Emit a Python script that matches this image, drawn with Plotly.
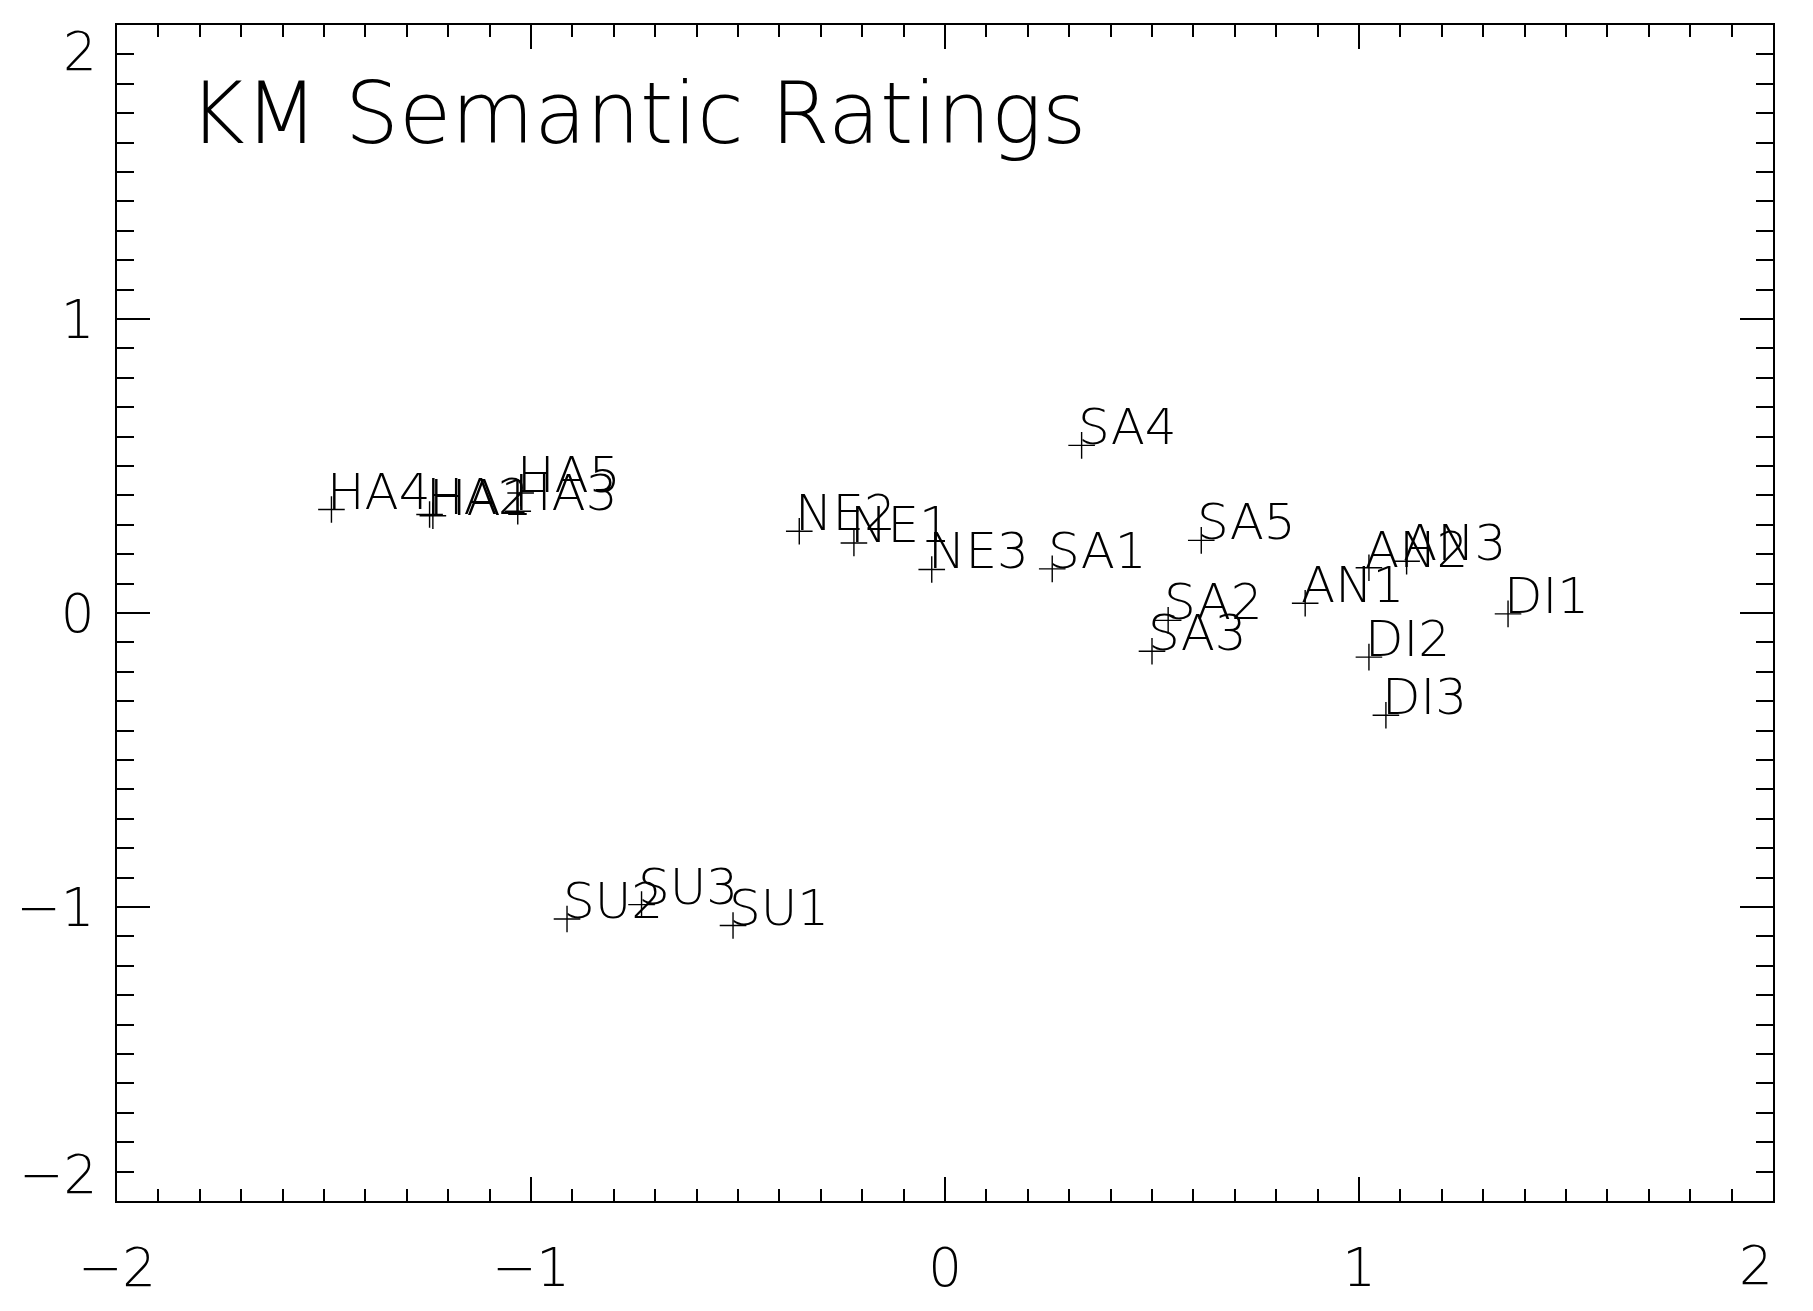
import plotly.graph_objects as go

# point labels and their coordinates
names = ["HA1", "HA2", "HA3", "HA4", "HA5",
         "NE1", "NE2", "NE3",
         "SA1", "SA2", "SA3", "SA4", "SA5",
         "AN1", "AN2", "AN3",
         "DI1", "DI2", "DI3",
         "SU1", "SU2", "SU3"]
x_vals = [-1.237, -1.245, -1.032, -1.482, -1.025,
          -0.220, -0.352, -0.032,
          0.259, 0.539, 0.500, 0.330, 0.619,
          0.870, 1.024, 1.115,
          1.360, 1.024, 1.065,
          -0.512, -0.913, -0.733]
y_vals = [0.331, 0.335, 0.346, 0.352, 0.408,
          0.238, 0.278, 0.148,
          0.150, -0.025, -0.130, 0.570, 0.247,
          0.033, 0.154, 0.176,
          -0.003, -0.150, -0.348,
          -1.063, -1.041, -0.992]

title_text = "KM Semantic Ratings"
axis_range = [-2, 2]
tick_vals = [-2, -1, 0, 1, 2]
y_tick_text = ["", "−1", "0", "1", ""]
x_tick_text = ["−2", "−1", "0", "1", ""]

FONT = "DejaVu Sans"
tick_font = dict(family=FONT, size=53, color="black", weight=200)

fig = go.Figure()
fig.add_trace(go.Scatter(
    x=x_vals, y=y_vals, mode="markers",
    marker=dict(symbol="cross-thin", size=19, line=dict(width=1.4, color="black")),
    hoverinfo="text", text=names, showlegend=False,
))

# labels start at the cross, baseline on the point
for n, xv, yv in zip(names, x_vals, y_vals):
    fig.add_annotation(x=xv, y=yv, text=n, showarrow=False,
                       xanchor="left", yanchor="bottom", xshift=-6, yshift=-13,
                       font=dict(family=FONT, size=50, color="black", weight=200))

fig.add_annotation(x=-1.83, y=1.59, text=title_text, showarrow=False,
                   xanchor="left", yanchor="bottom", yshift=-19,
                   font=dict(family=FONT, size=85, color="black", weight=200))

# end labels pulled inside the axis span, the way IDL draws them
fig.add_annotation(x=-2, y=2, text="2", showarrow=False,
                   xanchor="right", yanchor="top", xshift=-18, yshift=6, font=tick_font)
fig.add_annotation(x=-2, y=-2, text="−2", showarrow=False,
                   xanchor="right", yanchor="bottom", xshift=-18, yshift=-6, font=tick_font)
fig.add_annotation(x=2, y=-2, text="2", showarrow=False,
                   xanchor="right", yanchor="top", xshift=2, yshift=-32, font=tick_font)

axis_common = dict(range=axis_range, tickmode="array", tickvals=tick_vals,
                   showgrid=False, zeroline=False,
                   showline=True, linecolor="black", linewidth=2, mirror="ticks",
                   ticks="inside", tickcolor="black", tickwidth=1.5,
                   tickfont=tick_font)

fig.update_xaxes(**axis_common, ticktext=x_tick_text, ticklen=24, ticklabelstandoff=19,
                 minor=dict(ticks="inside", dtick=0.1, tick0=0, ticklen=12,
                            tickcolor="black", tickwidth=1.5))
fig.update_yaxes(**axis_common, ticktext=y_tick_text, ticklen=33, ticklabelstandoff=10,
                 minor=dict(ticks="inside", dtick=0.1, tick0=0, ticklen=17,
                            tickcolor="black", tickwidth=1.5))

fig.update_layout(
    width=1813, height=1311, autosize=False,
    margin=dict(l=117, r=40, t=25, b=110),
    plot_bgcolor="white", paper_bgcolor="white",
)

fig.write_html("out.html", config={"displayModeBar": False},
               post_script="document.body.style.margin='0';")
